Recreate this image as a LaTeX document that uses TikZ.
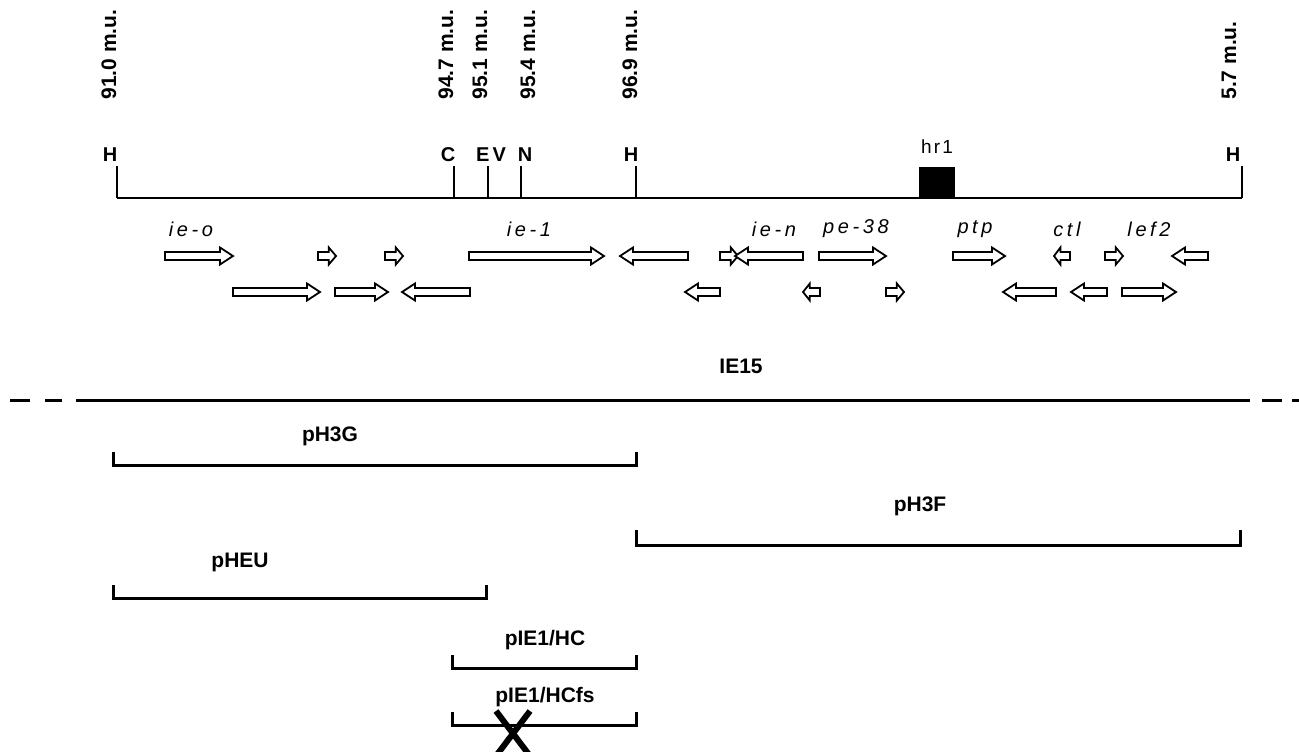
\documentclass[tikz,border=0pt]{standalone}
\usepackage{fontspec}
\setmainfont{Liberation Sans}
\newfontfamily\genefont[LetterSpace=18]{Liberation Sans}
\newfontfamily\sitefont[LetterSpace=12]{Liberation Sans}
\usetikzlibrary{positioning}

% gene arrow: tail x, tip x, row y
\newcommand\gene[3]{%
  \pgfmathsetmacro\genedir{sign(#2-#1)}%
  \pgfmathsetmacro\genehead{min(13,0.4*abs(#2-#1))}%
  \pgfmathsetmacro\genebase{#2-\genedir*\genehead}%
  \draw[genebox] (#1,#3-4) -- (\genebase,#3-4) -- (\genebase,#3-8.5) -- (#2,#3)
    -- (\genebase,#3+8.5) -- (\genebase,#3+4) -- (#1,#3+4) -- cycle;}

\begin{document}
\begin{tikzpicture}[x=0.5pt,y=-0.5pt,node distance=6pt,
  mapline/.style={line width=1pt},
  cutsite/.style={line width=0.8pt},
  genebox/.style={draw, line width=0.9pt, fill=white},
  clone/.style={line width=1.5pt},
  mulabel/.style={rotate=90, anchor=west, inner sep=0pt, font=\bfseries\fontsize{10.5}{12}\selectfont},
  sitelabel/.style={inner sep=0pt, font=\bfseries\fontsize{10}{12}\selectfont},
  genelabel/.style={inner sep=0pt, font=\genefont\itshape\fontsize{10}{12}\selectfont},
  clonelabel/.style={inner sep=0pt, font=\bfseries\fontsize{10.5}{12}\selectfont}]
\useasboundingbox (0,0) rectangle (1299,751);

% restriction map
\draw[mapline] (117,198) -- (1242,198);
\foreach \x/\lx/\mx/\mu/\site/\name in {117/110/109/91.0/H/ha, 454/448/446/94.7/C/cb,
    488/491/480/95.1/E\,V/ev, 521/525/528/95.4/N/nc, 636/631/630/96.9/H/hb, 1242/1233/1229/5.7/H/hc}{
  \draw[cutsite] (\x,166) -- (\x,198);
  \node[sitelabel] (\name) at (\lx,155) {\site};
  \node[mulabel] (\name-mu) at (\mx,100) {\mu\ m.u.};
}
\node[fill=black, minimum width=18pt, minimum height=15.5pt, inner sep=0pt, anchor=south] (hrbox) at (937,198) {};
\node[inner sep=0pt, font=\sitefont\fontsize{9.5}{11}\selectfont, above=of hrbox] (hrlabel) {hr1};

% genes
\node[genelabel] (ieo) at (191,229) {ie-o};
\node[genelabel] (ie1) at (529,229) {ie-1};
\node[genelabel] (ien) at (774,229) {ie-n};
\node[genelabel] (pe38) at (856,229) {pe-38};
\node[genelabel] (ptp) at (975,229) {ptp};
\node[genelabel] (ctl) at (1067,229) {ctl};
\node[genelabel] (lef2) at (1149,229) {lef2};

\gene{165}{233}{256} \gene{318}{336}{256} \gene{385}{403}{256}
\gene{469}{604}{256} \gene{688}{620}{256} \gene{720}{738}{256}
\gene{803}{735}{256} \gene{819}{886}{256} \gene{953}{1005}{256}
\gene{1070}{1054}{256} \gene{1105}{1123}{256} \gene{1208}{1172}{256}

\gene{233}{320}{292} \gene{335}{388}{292} \gene{470}{402}{292}
\gene{720}{685}{292} \gene{820}{803}{292} \gene{886}{904}{292}
\gene{1056}{1003}{292} \gene{1107}{1071}{292} \gene{1122}{1176}{292}

% IE15 genome
\node[clonelabel] (ie15) at (741,366) {IE15};
\draw[clone] (10,400) -- (30,400) (45,400) -- (62,400);
\draw[clone] (76,400) -- (1250,400);
\draw[clone] (1262,400) -- (1282,400) (1292,400) -- (1299,400);

% clones
\draw[clone] (113,452) |- (636,465) -- (636,452);
\node[clonelabel] (ph3g) at (330,436) {pH3G};
\draw[clone] (636,530) |- (1240,545) -- (1240,530);
\node[clonelabel] (ph3f) at (920,506) {pH3F};
\draw[clone] (113,585) |- (486,598) -- (486,585);
\node[clonelabel] (pheu) at (240,562) {pHEU};
\draw[clone] (452,655) |- (636,668) -- (636,655);
\node[clonelabel] (phc) at (545,640) {pIE1/HC};
\draw[clone] (452,712) |- (636,725) -- (636,712);
\node[clonelabel] (phcfs) at (545,697) {pIE1/HCfs};
\draw[line width=3pt] (496,711) -- (530,756) (530,711) -- (496,756);
\end{tikzpicture}
\end{document}
